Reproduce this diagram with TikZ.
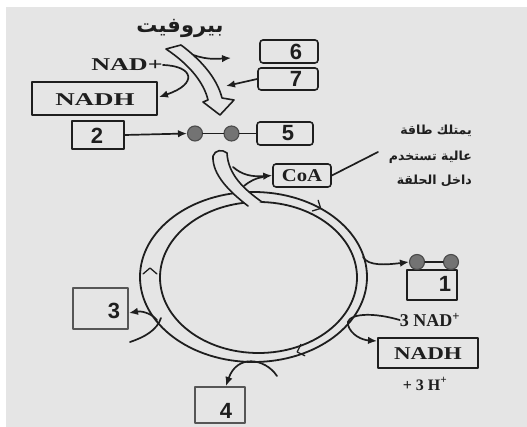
\documentclass[tikz,border=0pt]{standalone}
\usepackage{graphicx}
\usepackage{fontspec}
\setmainfont{Liberation Serif}
\newfontfamily\digitfont{Liberation Sans}
\newfontfamily\arabicfont[Script=Arabic]{DejaVu Sans}
\TeXXeTstate=1
\usetikzlibrary{arrows.meta}
\definecolor{bg}{RGB}{229,229,229}
\definecolor{ink}{RGB}{30,30,30}
\definecolor{dotgray}{RGB}{115,115,115}
\begin{document}
\begin{tikzpicture}[x=1pt,y=-1pt,line join=round,line cap=round,
  thin line/.style={draw=ink,line width=1.7pt},
  numbox/.style={draw=ink,line width=1.6pt,inner sep=0pt},
  roundbox/.style={numbox,rounded corners=3pt},
  digit/.style={font=\digitfont\bfseries\fontsize{22}{22}\selectfont,inner sep=0pt,text=ink},
  chem/.style={font=\bfseries\fontsize{18}{18}\selectfont,inner sep=0pt,text=ink},
  artext/.style={font=\arabicfont\bfseries\fontsize{12.5}{12.5}\selectfont,inner sep=0pt,text=ink,anchor=east},
  tip/.style={-{Latex[length=9pt,width=7.5pt]}},
  band/.style={draw=ink,line width=1.6pt,fill=bg},
  bead/.style={circle,draw=ink!80,line width=1.1pt,fill=dotgray,minimum size=15pt,inner sep=0pt},
  chevron/.style={draw=ink,line width=1.3pt}]

% page and backdrop
\fill[white] (0,0) rectangle (527,427);
\fill[bg] (6,7) rectangle (527,427);
\useasboundingbox (0,0) rectangle (527,427);

% ---- the cycle ring ----
\draw[ink,line width=1.8pt] (253.5,277) ellipse [x radius=113.5,y radius=85];
\draw[ink,line width=1.8pt] (258.5,277.5) ellipse [x radius=98.5,y radius=75.5];
% direction marks in the ring
\draw[chevron,shift={(318,207)},rotate=-28] (-3,-6) -- (3,0) -- (-3,6);
\draw[chevron,shift={(150,271)},rotate=90] (-3,-7) -- (3,0) -- (-3,7);
\draw[chevron,shift={(300,351)},rotate=-161] (-3,-6) -- (3,0) -- (-3,6);

% ---- boxes ----
\node[roundbox,minimum width=58pt,minimum height=23pt] (b6) at (289,51.5) {};
\node[digit] (d6) at (296,52) {6};
\node[roundbox,minimum width=60pt,minimum height=22pt] (b7) at (288,79) {};
\node[digit] (d7) at (296,79) {7};
\node[numbox,minimum width=125pt,minimum height=33pt] (nadhtop) at (94.5,98.5) {};
\node[chem] (nadhtoptxt) at (95,100) {\scalebox{1.5}[1]{NADH}};
\node[chem] (nadplus) at (127,65) {\scalebox{1.45}[1]{NAD+}};
\node[numbox,minimum width=52pt,minimum height=28pt] (b2) at (98,135) {};
\node[digit] (d2) at (97,136) {2};
\node[roundbox,minimum width=56pt,minimum height=23pt] (b5) at (285,133.5) {};
\node[digit] (d5) at (288,133) {5};
\node[roundbox,minimum width=58pt,minimum height=23pt,chem] (coa) at (302,175.5) {\scalebox{1.15}[1]{CoA}};
\node[numbox,minimum width=50pt,minimum height=30pt] (b1) at (432,285) {};
\node[digit] (d1) at (445,284) {1};
\node[chem] (nad3) at (430,320) {3 NAD\textsuperscript{+}};
\node[numbox,minimum width=100pt,minimum height=30pt] (nadhbot) at (428,353) {};
\node[chem] (nadhbottxt) at (428,354) {\scalebox{1.28}[1]{NADH}};
\node[chem,font=\bfseries\fontsize{16}{16}\selectfont] (h3) at (425,384) {+ 3 H\textsuperscript{+}};
\node[numbox,minimum width=55pt,minimum height=41pt,draw=ink!75,line width=1.3pt] (b3) at (100.5,308.5) {};
\node[digit] (d3) at (114,311) {3};
\node[numbox,minimum width=50pt,minimum height=36pt,draw=ink!75,line width=1.3pt] (b4) at (220,405) {};
\node[digit] (d4) at (226,411) {4};

% ---- beads ----
\node[bead] (p1) at (195,133.5) {};
\node[bead] (p2) at (231.5,133.5) {};
\node[bead] (q1) at (417,262) {};
\node[bead] (q2) at (451,262) {};
\draw[thin line] (p1) -- (p2);
\draw[thin line] (p2) -- (b5.west);
\draw[thin line,tip] (b2.east) -- (p1.west);
\draw[thin line] (q1) -- (q2);

% ---- labels ----
\node[font=\arabicfont\bfseries\fontsize{21}{21}\selectfont,inner sep=0pt,text=ink] (pyr) at (180,28) {\beginR بيروفيت\endR};
\node[artext] (ar1) at (472,131) {\beginR يمتلك طاقة\endR};
\node[artext] (ar2) at (472,157) {\beginR عالية تستخدم\endR};
\node[artext] (ar3) at (472,181) {\beginR داخل الحلقة\endR};
\coordinate (lead) at (378,152);
\draw[thin line] (coa.east) -- (lead);

% ---- thin connectors round the first step ----
\coordinate (s6) at (188,53);
\coordinate (t6) at (231,58);
\coordinate (t7) at (226,86);
\coordinate (tn) at (159,97);
\draw[thin line,tip] (s6) .. controls (205,60) and (215,59) .. (t6);
\draw[thin line,tip] (nadplus.east) .. controls (194,66) and (198,84) .. (tn);
\draw[thin line,tip] (b7.west) -- (t7);

% pyruvate band (hollow arrow)
\draw[band] (166,49) .. controls (190,65) and (204,83) .. (208,100) -- (203,102) -- (220,115)
  -- (234,100) -- (222,98) .. controls (217,78) and (201,60) .. (181,45) -- cycle;

% ---- acetyl band into the ring ----
\coordinate (c0) at (233,167);
\draw[thin line,tip] (c0) .. controls (242,175) and (252,177) .. (coa.west);
\draw[thin line] (244,186) .. controls (250,181) and (256,178) .. (263,177);
\fill[bg] (213,156) .. controls (212,175) and (230,192) .. (248,206) -- (262,202)
  .. controls (245,190) and (228,175) .. (227,153) .. controls (222,149) and (215,150) .. (213,156) -- cycle;
\draw[ink,line width=1.6pt] (248,206) .. controls (230,192) and (212,175) .. (213,156)
  .. controls (215,150) and (222,149) .. (227,153) .. controls (228,175) and (245,190) .. (262,202);

% ---- connectors leaving the ring ----
\coordinate (r1) at (363,257);
\draw[thin line,tip] (r1) .. controls (368,266) and (385,265) .. (q1.west);
\coordinate (t3n) at (377,341);
\draw[thin line,tip] (nad3.west) .. controls (365,310) and (345,316) .. (348,325)
  .. controls (351,335) and (362,340) .. (t3n);
\coordinate (r3b) at (157,320);
\coordinate (t3) at (129,313);
\draw[thin line,tip] (r3b) .. controls (150,312) and (140,311) .. (t3);
\coordinate (r3c) at (130,342);
\draw[thin line] (r3c) .. controls (145,337) and (157,330) .. (161,318);
\coordinate (r4) at (277,376);
\coordinate (t4) at (226,386);
\draw[thin line,tip] (r4) .. controls (265,358) and (237,354) .. (t4);
\end{tikzpicture}
\end{document}
